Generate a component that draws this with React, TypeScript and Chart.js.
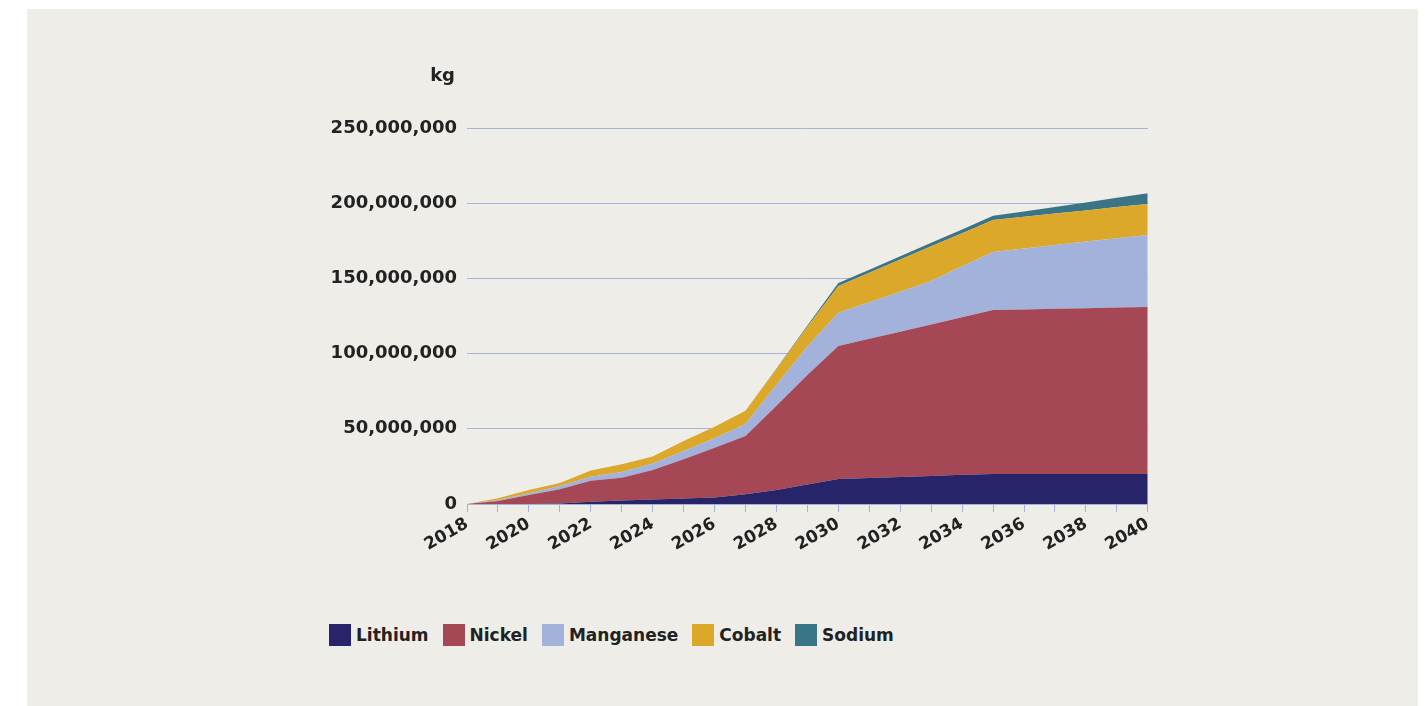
import React, { useEffect, useRef } from 'react';
import { Chart, registerables } from 'chart.js';

Chart.register(...registerables);

// values in millions of kg
const years = ['2018','2019','2020','2021','2022','2023','2024','2025','2026','2027','2028','2029','2030','2031','2032','2033','2034','2035','2036','2037','2038','2039','2040'];
const lithium = [0, 0, 0, 0.3, 1.5, 2.3, 3.0, 3.7, 4.3, 6.5, 9.3, 13, 16.6, 17.3, 18, 18.7, 19.4, 20, 20, 20, 20, 20, 20];
const nickel = [0, 2.0, 6, 9.5, 14, 15.2, 19.6, 26, 33.1, 38.7, 56.1, 72.8, 88.4, 92.5, 96.6, 100.7, 104.8, 109, 109.4, 109.8, 110.2, 110.6, 111];
const manganese = [0, 0.6, 1.1, 2.2, 2.7, 3.8, 4.4, 5.6, 6.3, 8, 13.9, 18.9, 22.2, 24.4, 26.6, 28.9, 33.8, 38.6, 40.5, 42.4, 44.3, 46.1, 47.9];
const cobalt = [0, 1.2, 2.2, 2.0, 4, 5.1, 4.5, 6.6, 7.7, 8.8, 10.5, 13.1, 17.8, 19.5, 21.3, 23, 22, 21.3, 21.1, 20.9, 20.7, 20.7, 20.6];
const sodium = [0, 0, 0, 0, 0, 0, 0, 0, 0, 0, 0.3, 0.9, 2.0, 2.1, 2.2, 2.4, 2.5, 2.7, 3.5, 4.4, 5.3, 6.2, 7.1];
const yTicks = [0, 50, 100, 150, 200, 250];
const unitLabel = 'kg';

const seriesNames = ['Lithium', 'Nickel', 'Manganese', 'Cobalt', 'Sodium'];
const seriesColors = ['#28246a', '#a54755', '#a3b2da', '#dca82a', '#3a7587'];
const seriesData = [lithium, nickel, manganese, cobalt, sodium];

const FONT = '"DejaVu Sans", sans-serif';
const TEXT = '#222222';
const GRID = '#a6b2da';

export default function App() {
  const ref = useRef<HTMLCanvasElement | null>(null);

  useEffect(() => {
    if (!ref.current) return;
    const unitPlugin = {
      id: 'unitLabel',
      afterDraw(chart: any) {
        const { ctx, chartArea } = chart;
        ctx.save();
        ctx.font = `bold 18px ${FONT}`;
        ctx.fillStyle = TEXT;
        ctx.textAlign = 'right';
        ctx.textBaseline = 'alphabetic';
        ctx.fillText(unitLabel, chartArea.left - 12, chartArea.top - 47);
        ctx.restore();
      },
    };
    const chart = new Chart(ref.current, {
      type: 'line',
      data: {
        labels: years,
        datasets: seriesNames.map((name, i) => ({
          label: name,
          data: seriesData[i],
          backgroundColor: seriesColors[i],
          borderColor: seriesColors[i],
          borderWidth: 0,
          pointRadius: 0,
          tension: 0,
          fill: i === 0 ? 'origin' : '-1',
        })),
      },
      options: {
        animation: false,
        responsive: false,
        devicePixelRatio: 1,
        layout: { padding: { top: 68, right: 12, left: 0, bottom: 0 } },
        plugins: {
          legend: { display: false },
          tooltip: { enabled: false },
        },
        scales: {
          x: {
            type: 'category',
            grid: { display: true, drawOnChartArea: false, drawTicks: true, tickLength: 8, color: GRID, lineWidth: 1 },
            border: { display: true, color: GRID, width: 1 },
            ticks: {
              autoSkip: false,
              minRotation: 30,
              maxRotation: 30,
              padding: 2,
              color: TEXT,
              font: { family: FONT, size: 17, weight: 'bold' },
              callback: (_v: any, i: number) => (i % 2 === 0 ? years[i] : ''),
            },
            afterFit: (s: any) => { s.height = 76; },
          },
          y: {
            stacked: true,
            min: 0,
            max: 250,
            afterBuildTicks: (s: any) => { s.ticks = yTicks.map((v) => ({ value: v })); },
            ticks: {
              padding: 10,
              color: TEXT,
              font: { family: FONT, size: 18, weight: 'bold' },
              callback: (v: any) => (Number(v) * 1e6).toLocaleString('en-US'),
            },
            grid: { color: GRID, lineWidth: 1, drawTicks: false },
            border: { display: false },
            afterFit: (s: any) => { s.width = 167; },
          },
        },
      },
      plugins: [unitPlugin],
    } as any);
    return () => chart.destroy();
  }, []);

  return (
    <div>
      <div style={{ position: 'absolute', left: 27, top: 9, width: 1391, height: 697, background: '#eeede8' }} />
      <canvas
        ref={ref}
        width={860}
        height={520}
        style={{ position: 'absolute', left: 300, top: 60, width: 860, height: 520 }}
      />
      <div
        style={{
          position: 'absolute', left: 329, top: 624, display: 'flex', alignItems: 'center',
          fontFamily: FONT, fontWeight: 'bold', fontSize: 17, color: TEXT,
        }}
      >
        {seriesNames.map((name, i) => (
          <div key={name} style={{ display: 'flex', alignItems: 'center', marginRight: 14 }}>
            <span style={{ display: 'inline-block', width: 22, height: 22, background: seriesColors[i], marginRight: 5 }} />
            <span style={{ lineHeight: '22px' }}>{name}</span>
          </div>
        ))}
      </div>
    </div>
  );
}
